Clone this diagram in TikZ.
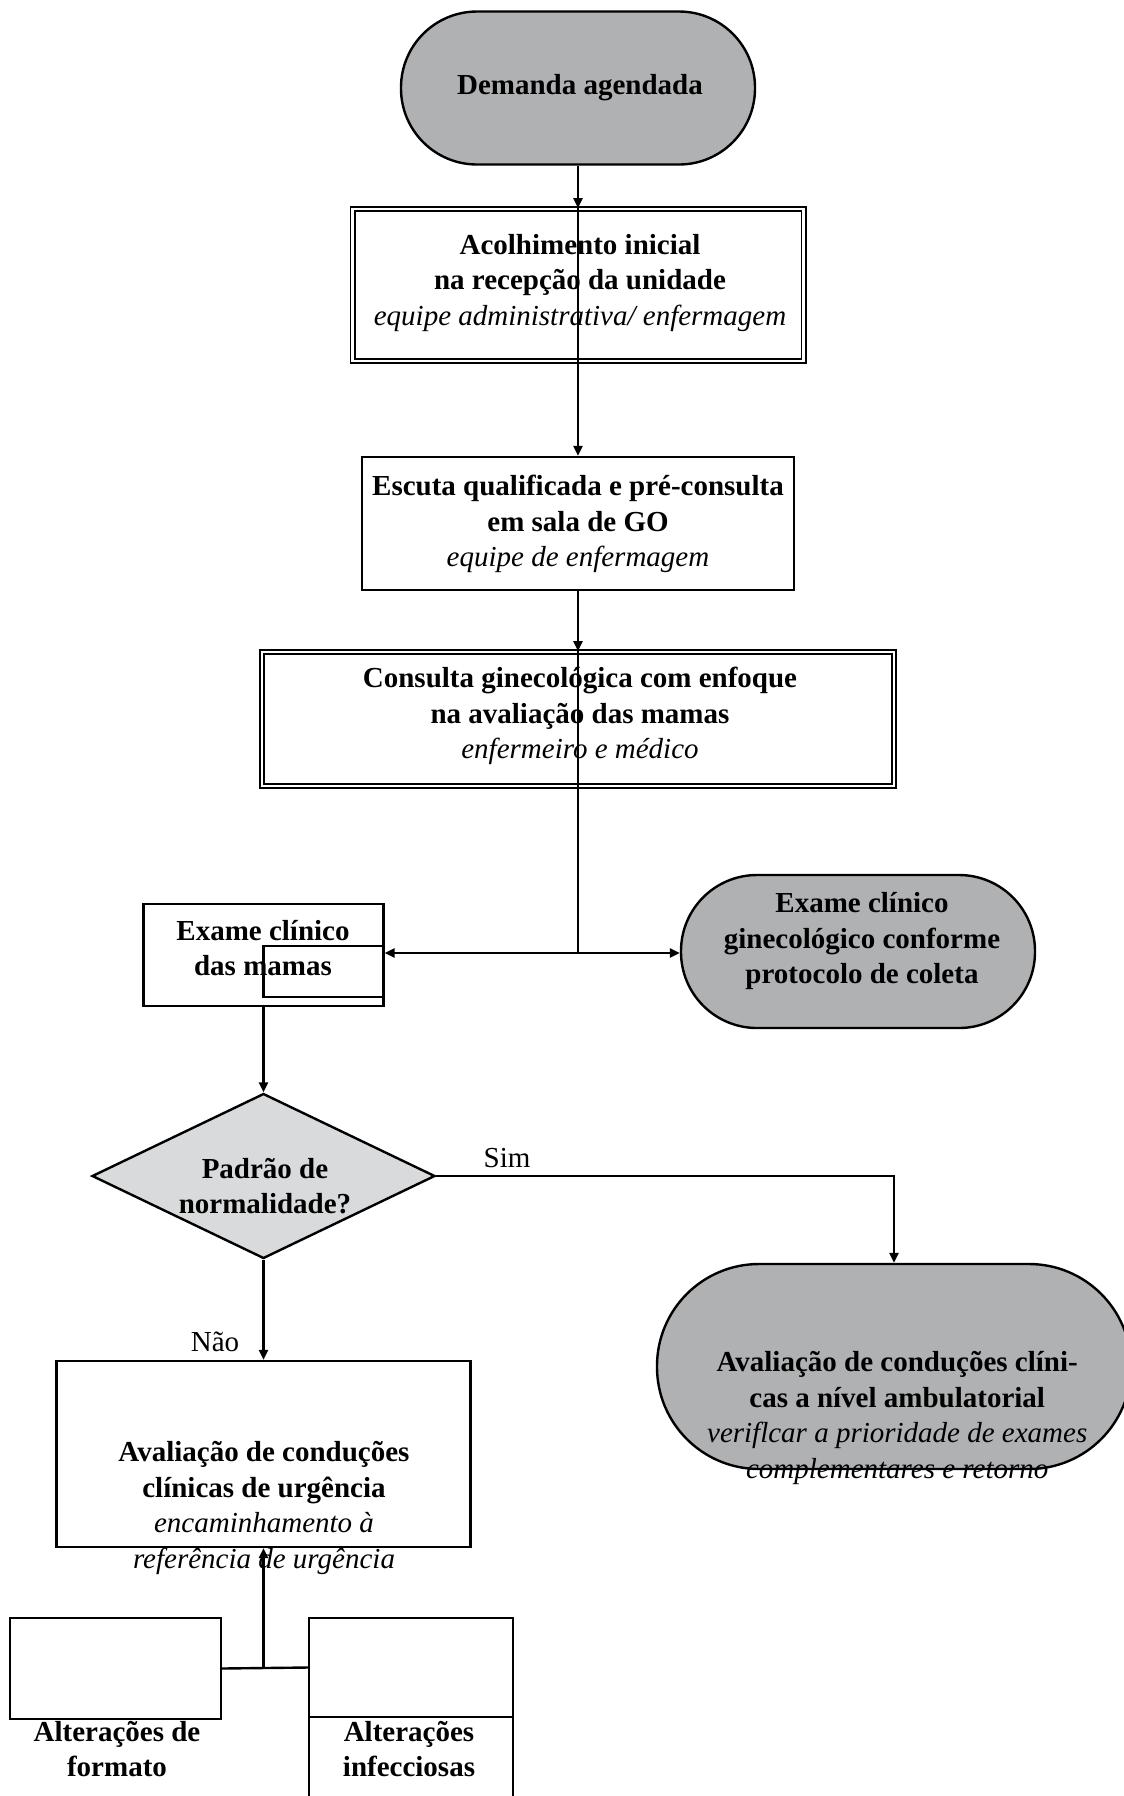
\documentclass[tikz,border=0pt]{standalone}
\usepackage{fontspec}
\setmainfont{Liberation Serif}
\usetikzlibrary{shapes.geometric,arrows.meta}
\definecolor{termgray}{RGB}{176,177,179}
\definecolor{decgray}{RGB}{217,218,220}
\newcommand{\subtxt}[1]{{\mdseries\itshape #1}}

\begin{document}
\begin{tikzpicture}[x=1pt,y=-1pt,line width=1.2pt,
  termbox/.style={draw,fill=termgray,inner sep=0pt},
  stepbox/.style={draw,fill=white,inner sep=0pt},
  dblbox/.style={draw,double,double distance=1.4pt,line width=0.8pt,fill=white,inner sep=0pt},
  decbox/.style={draw,diamond,fill=decgray,inner sep=0pt},
  lbl/.style={align=center,font=\fontsize{14.5}{17.75}\selectfont\bfseries},
  plain/.style={font=\fontsize{14.5}{17.75}\selectfont},
  arr/.style={-{Triangle[length=5pt,width=4.5pt]}}]
  \useasboundingbox (0,0) rectangle (562,898);

  % shapes
  \node[termbox,rounded corners=38pt,minimum width=177pt,minimum height=76.5pt] (dem) at (289,44) {};
  \node[dblbox,minimum width=225.5pt,minimum height=76pt] (acol) at (289,142.5) {};
  \node[stepbox,minimum width=216pt,minimum height=66.5pt] (esc) at (289,261.75) {};
  \node[dblbox,minimum width=316pt,minimum height=67pt] (cons) at (289,359.5) {};
  \node[stepbox,minimum width=120pt,minimum height=51pt] (exm) at (131.75,477.5) {};
  \draw (131.75,473) rectangle (191.75,498.5);
  \node[termbox,rounded corners=38pt,minimum width=177pt,minimum height=76.5pt] (exg) at (429,475.75) {};
  \node[decbox,minimum width=171.5pt,minimum height=82.5pt] (pad) at (131.75,588) {};
  \node[termbox,rounded corners=51pt,minimum width=237pt,minimum height=102.5pt] (amb) at (447,683.25) {};
  \node[stepbox,minimum width=207pt,minimum height=93pt] (urg) at (131.75,727) {};
  \node[stepbox,minimum width=105.5pt,minimum height=50.5pt] (fmt) at (57.75,834.25) {};
  \draw (154.5,850) rectangle (256.5,905);
  \node[stepbox,minimum width=102pt,minimum height=49.5pt] (inf) at (205.5,833.75) {};

  % texts
  \node[lbl] (demt) at (290,44) {Demanda agendada};
  \node[lbl] (acolt) at (290,141.5) {Acolhimento inicial\\na recepção da unidade\\\subtxt{equipe administrativa/ enfermagem}};
  \node[lbl] (esct) at (289,262) {Escuta qualificada e pré-consulta\\em sala de GO\\\subtxt{equipe de enfermagem}};
  \node[lbl] (const) at (290,358) {Consulta ginecológica com enfoque\\na avaliação das mamas\\\subtxt{enfermeiro e médico}};
  \node[lbl] (exmt) at (131.5,474) {Exame clínico\\das mamas};
  \node[lbl] (exgt) at (431,470.7) {Exame clínico\\ginecológico conforme\\protocolo de coleta};
  \node[lbl] (padt) at (132.5,593) {Padrão de\\normalidade?};
  \node[lbl] (ambt) at (448.6,709) {Avaliação de conduções clíni-\\cas a nível ambulatorial\\\subtxt{veriflcar a prioridade de exames}\\\subtxt{complementares e retorno}};
  \node[lbl] (urgt) at (132,754) {Avaliação de conduções\\clínicas de urgência\\\subtxt{encaminhamento à}\\\subtxt{referência de urgência}};
  \node[lbl] (fmtt) at (58.5,874.5) {Alterações de\\formato};
  \node[lbl] (inft) at (204.5,874.5) {Alterações\\infecciosas};
  \node[plain] (sim) at (253.5,579) {Sim};
  \node[plain] (nao) at (107.5,671) {Não};

  % connectors
  \draw[arr] (dem) -- (acol.north);
  \draw[arr] (acol.north) -- (esc.north);
  \draw[arr] (esc) -- (cons);
  \coordinate (jn) at (289,476.5);
  \draw (cons.north) -- (jn);
  \draw[arr] (jn) -- (jn -| exm.east);
  \draw[arr] (jn) -- (jn -| exg.west);
  \draw[arr] (exm) -- (pad);
  \draw[arr] (pad.east) -| (amb.north);
  \draw[arr] (pad) -- (urg);
  \coordinate (jb) at (131.75,833.5);
  \draw (fmt.east) -- (inf.west);
  \draw[arr] (jb) -- (urg.south);
\end{tikzpicture}
\end{document}
